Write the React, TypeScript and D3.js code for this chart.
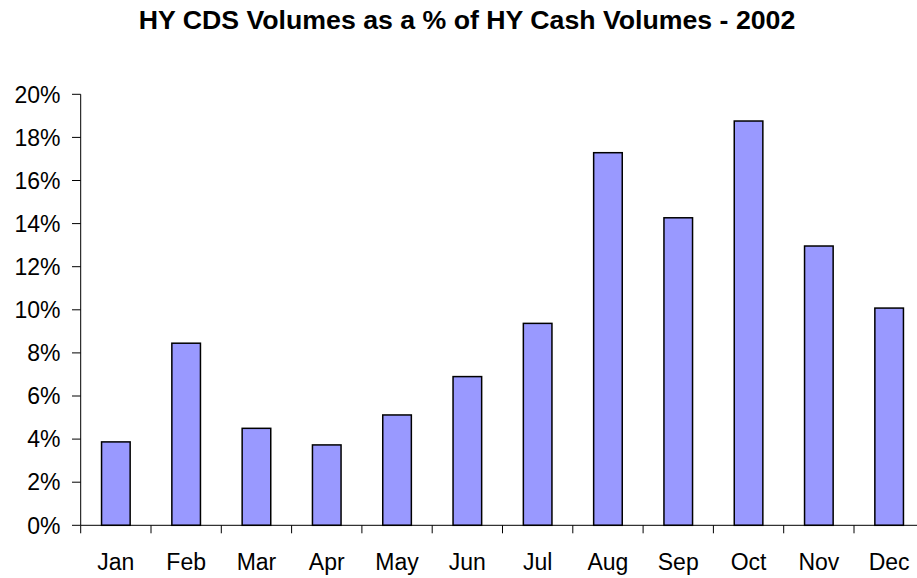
import React from "react";
import * as d3 from "d3";

const months = ["Jan", "Feb", "Mar", "Apr", "May", "Jun", "Jul", "Aug", "Sep", "Oct", "Nov", "Dec"];
const values = [3.87, 8.45, 4.5, 3.73, 5.12, 6.9, 9.37, 17.29, 14.27, 18.76, 12.96, 10.08];
const yTicks = [0, 2, 4, 6, 8, 10, 12, 14, 16, 18, 20];
const title = "HY CDS Volumes as a % of HY Cash Volumes - 2002";

const W = 917;
const H = 578;
const FONT = "Arial, 'Liberation Sans', Helvetica, sans-serif";

export default function App() {
  const x = d3.scaleBand<string>().domain(months).range([80.7, 80.7 + 12 * 70.3]).padding(0);
  const y = d3.scaleLinear().domain([0, 20]).range([525.3, 94.3]);
  const barW = 28.6;
  const x0 = 80.7;
  const y0 = y(0);

  return (
    <svg width={W} height={H} style={{ position: "absolute", left: 0, top: 0 }} fontFamily={FONT}>
      <rect x={0} y={0} width={W} height={H} fill="#fff" />
      <text x={467} y={29} textAnchor="middle" fontWeight="bold" fontSize={26.7} fill="#000">
        {title}
      </text>
      {values.map((v, i) => {
        const cx = (x(months[i]) as number) + x.bandwidth() / 2;
        return (
          <rect
            key={months[i]}
            x={cx - barW / 2}
            y={y(v)}
            width={barW}
            height={y0 - y(v)}
            fill="#9999FF"
            stroke="#000"
            strokeWidth={1.5}
          />
        );
      })}
      <line x1={x0} x2={x0} y1={y(20)} y2={y0} stroke="#000" strokeWidth={1} />
      {yTicks.map((t) => (
        <g key={t}>
          <line x1={72} x2={x0} y1={y(t)} y2={y(t)} stroke="#000" strokeWidth={1} />
          <text x={60.5} y={y(t)} dy="0.36em" textAnchor="end" fontSize={23} fill="#000">
            {t}%
          </text>
        </g>
      ))}
      <line x1={x0} x2={W} y1={y0} y2={y0} stroke="#000" strokeWidth={1} />
      {months.map((m) => (
        <line
          key={"t" + m}
          x1={x(m) as number}
          x2={x(m) as number}
          y1={y0}
          y2={y0 + 8}
          stroke="#000"
          strokeWidth={1}
        />
      ))}
      {months.map((m) => (
        <text
          key={"l" + m}
          x={(x(m) as number) + x.bandwidth() / 2}
          y={570}
          textAnchor="middle"
          fontSize={23}
          fill="#000"
        >
          {m}
        </text>
      ))}
    </svg>
  );
}
